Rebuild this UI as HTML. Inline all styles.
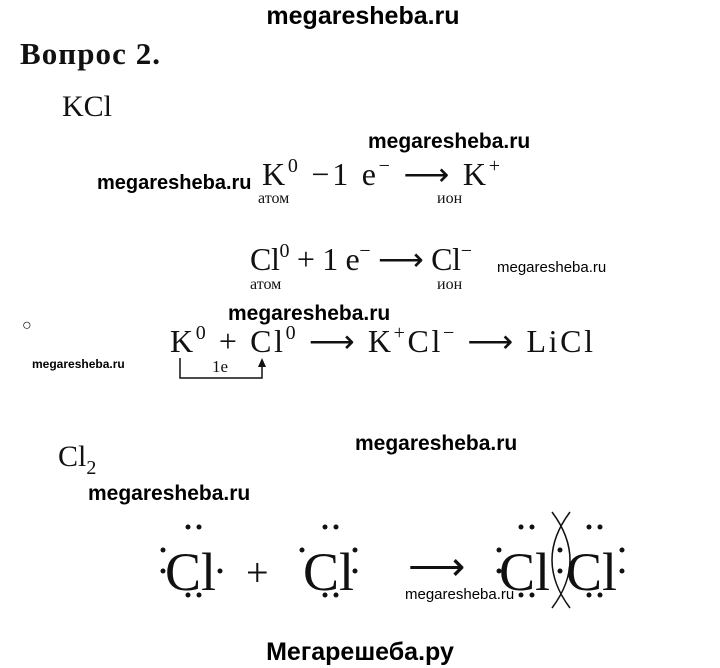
<!DOCTYPE html>
<html><head><meta charset="utf-8"><style>
html,body{margin:0;padding:0;background:#fff;}
svg{display:block}
.s{font-family:"Liberation Serif",serif;fill:#111}
.b{font-family:"Liberation Sans",sans-serif;font-weight:bold;fill:#000}
.n{font-family:"Liberation Sans",sans-serif;fill:#000}
</style></head><body>
<svg width="720" height="668" viewBox="0 0 720 668" xmlns="http://www.w3.org/2000/svg">
<text class="b" x="363" y="24" font-size="25" text-anchor="middle">megaresheba.ru</text>
<text class="s" x="20" y="64" font-size="31" font-weight="bold" textLength="140" lengthAdjust="spacing">Вопрос 2.</text>
<text class="s" x="62" y="116" font-size="30">KCl</text>

<text class="b" x="368" y="148" font-size="21">megaresheba.ru</text>
<text class="b" x="97" y="189" font-size="20">megaresheba.ru</text>
<text class="s" x="262" y="185" font-size="32" textLength="238" lengthAdjust="spacing">K<tspan font-size="20" dy="-13">0</tspan><tspan dy="13"> −1 e</tspan><tspan font-size="20" dy="-13">−</tspan><tspan dy="13"> ⟶ K</tspan><tspan font-size="20" dy="-13">+</tspan></text>
<text class="s" x="258" y="203" font-size="16">атом</text>
<text class="s" x="437" y="203" font-size="16">ион</text>

<text class="s" x="250" y="270" font-size="32" textLength="222" lengthAdjust="spacing">Cl<tspan font-size="20" dy="-13">0</tspan><tspan dy="13"> + 1 e</tspan><tspan font-size="20" dy="-13">−</tspan><tspan dy="13"> ⟶ Cl</tspan><tspan font-size="20" dy="-13">−</tspan></text>
<text class="s" x="250" y="289" font-size="16">атом</text>
<text class="s" x="437" y="289" font-size="16">ион</text>
<text class="n" x="497" y="272" font-size="15">megaresheba.ru</text>

<text class="b" x="228" y="320" font-size="21">megaresheba.ru</text>
<text class="s" x="22" y="330" font-size="16">○</text>
<text class="b" x="32" y="368" font-size="12">megaresheba.ru</text>

<text class="s" x="170" y="352" font-size="32" textLength="423" lengthAdjust="spacing">K<tspan font-size="20" dy="-13">0</tspan><tspan dy="13"> + Cl</tspan><tspan font-size="20" dy="-13">0</tspan><tspan dy="13">  ⟶ K</tspan><tspan font-size="20" dy="-13">+</tspan><tspan dy="13">Cl</tspan><tspan font-size="20" dy="-13">−</tspan><tspan dy="13"> ⟶ LiCl</tspan></text>
<text class="s" x="212" y="372" font-size="17">1e</text>
<polyline points="180,358 180,378 262,378 262,364" fill="none" stroke="#111" stroke-width="1.5"/>
<polygon points="262,358 258,367 266,367" fill="#111"/>

<text class="s" x="58" y="466" font-size="30">Cl<tspan font-size="20" dy="8">2</tspan></text>
<text class="b" x="355" y="450" font-size="21">megaresheba.ru</text>
<text class="b" x="88" y="500" font-size="21">megaresheba.ru</text>

<g class="s" font-size="54">
<text x="165" y="590">Cl</text>
<text x="246" y="586" font-size="40">+</text>
<text x="303" y="590">Cl</text>
<text x="408" y="580" font-size="40">⟶</text>
<text x="499" y="590">Cl</text>
<text x="566" y="590">Cl</text>
</g>
<g fill="#111">
<circle cx="188" cy="527" r="2.5"/><circle cx="199" cy="527" r="2.5"/>
<circle cx="188" cy="595" r="2.5"/><circle cx="199" cy="595" r="2.5"/>
<circle cx="163" cy="550" r="2.5"/><circle cx="163" cy="571" r="2.5"/>
<circle cx="220" cy="571" r="2.5"/>
<circle cx="325" cy="527" r="2.5"/><circle cx="336" cy="527" r="2.5"/>
<circle cx="325" cy="595" r="2.5"/><circle cx="336" cy="595" r="2.5"/>
<circle cx="302" cy="550" r="2.5"/>
<circle cx="355" cy="550" r="2.5"/><circle cx="355" cy="571" r="2.5"/>
<circle cx="521" cy="527" r="2.5"/><circle cx="532" cy="527" r="2.5"/>
<circle cx="521" cy="595" r="2.5"/><circle cx="532" cy="595" r="2.5"/>
<circle cx="499" cy="550" r="2.5"/><circle cx="499" cy="571" r="2.5"/>
<circle cx="560" cy="550" r="2.5"/><circle cx="560" cy="571" r="2.5"/>
<circle cx="589" cy="527" r="2.5"/><circle cx="600" cy="527" r="2.5"/>
<circle cx="589" cy="595" r="2.5"/><circle cx="600" cy="595" r="2.5"/>
<circle cx="622" cy="550" r="2.5"/><circle cx="622" cy="571" r="2.5"/>
</g>
<path d="M570,512 Q534,560 570,608 M552,512 Q588,560 552,608" fill="none" stroke="#111" stroke-width="1.5"/>
<text class="n" x="405" y="599" font-size="15">megaresheba.ru</text>

<text class="b" x="360" y="660" font-size="25" text-anchor="middle">Мегарешеба.ру</text>
</svg>
</body></html>
